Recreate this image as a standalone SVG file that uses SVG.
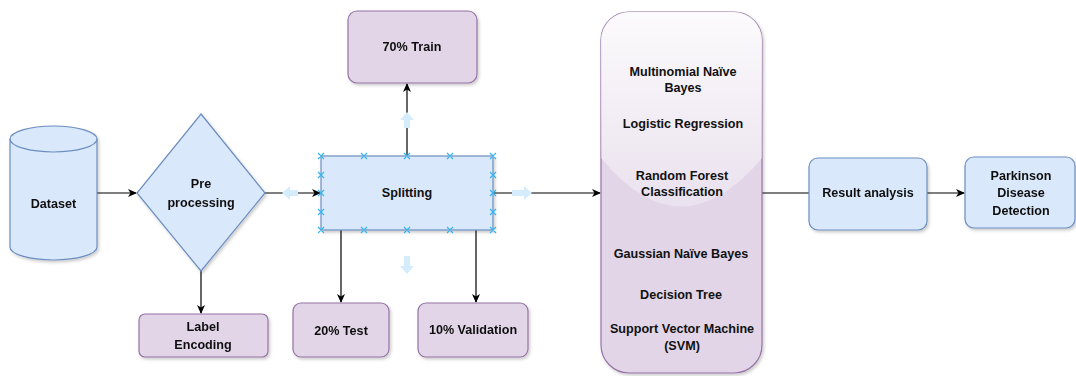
<svg xmlns="http://www.w3.org/2000/svg" width="1076" height="376" viewBox="0 0 1076 376">
<style>
.blue{fill:#dae8fc;stroke:#6c8ebf;stroke-width:1.2}
.purple{fill:#e1d5e7;stroke:#9673a6;stroke-width:1.2}
.t{font-family:"Liberation Sans",Arial,sans-serif;font-weight:bold;font-size:12.6px;fill:#111;text-anchor:middle;dominant-baseline:central}
.c{fill:none;stroke:#000;stroke-width:1.2}
.x{stroke:#33b5f0;stroke-width:1.2}
.ha{fill:#d4ecfb}
</style>
<defs>
<marker id="ar" markerWidth="10" markerHeight="10" refX="8" refY="5" orient="auto" markerUnits="userSpaceOnUse">
<path d="M0,1 L9,5 L0,9 L2.5,5 Z" fill="#000"/>
</marker>
<filter id="sh" x="-10%" y="-10%" width="130%" height="130%">
<feDropShadow dx="1.5" dy="2" stdDeviation="1.5" flood-color="#000" flood-opacity="0.2"/>
</filter>
<linearGradient id="glass" x1="0" y1="0" x2="0" y2="1">
<stop offset="0" stop-color="#ffffff" stop-opacity="0.9"/>
<stop offset="1" stop-color="#ffffff" stop-opacity="0.3"/>
</linearGradient>
</defs>

<g id="connectors">
<line class="c" x1="97" y1="193" x2="136" y2="193" marker-end="url(#ar)"/>
<line class="c" x1="265" y1="193" x2="320" y2="193" marker-end="url(#ar)"/>
<line class="c" x1="201" y1="271" x2="201" y2="313" marker-end="url(#ar)"/>
<line class="c" x1="407" y1="156" x2="407" y2="84" marker-end="url(#ar)"/>
<line class="c" x1="341" y1="230" x2="341" y2="302" marker-end="url(#ar)"/>
<line class="c" x1="476" y1="230" x2="476" y2="302" marker-end="url(#ar)"/>
<line class="c" x1="493" y1="193" x2="600" y2="193" marker-end="url(#ar)"/>
<line class="c" x1="762" y1="193" x2="809" y2="193"/>
<line class="c" x1="927" y1="193" x2="964" y2="193" marker-end="url(#ar)"/>
</g>

<g id="dataset" filter="url(#sh)">
<path class="blue" d="M10,139 A43.5,13 0 0 1 97,139 L97,247 A43.5,13 0 0 1 10,247 Z"/>
<path class="blue" style="fill:none" d="M10,139 A43.5,13 0 0 0 97,139"/>
<text class="t" x="53.5" y="204">Dataset</text>
</g>

<g id="preprocessing" filter="url(#sh)">
<path class="blue" d="M201,114 L265,193 L201,271 L137,193 Z"/>
<text class="t" x="201" y="184">Pre</text>
<text class="t" x="201" y="203">processing</text>
</g>

<g id="splitting">
<rect class="blue" x="321" y="156" width="172" height="74" filter="url(#sh)"/>
<text class="t" x="407" y="193">Splitting</text>
<g class="x">
<path d="M318,153l6,6m0,-6l-6,6M361,153l6,6m0,-6l-6,6M404,153l6,6m0,-6l-6,6M447,153l6,6m0,-6l-6,6M490,153l6,6m0,-6l-6,6"/>
<path d="M318,227l6,6m0,-6l-6,6M361,227l6,6m0,-6l-6,6M404,227l6,6m0,-6l-6,6M447,227l6,6m0,-6l-6,6M490,227l6,6m0,-6l-6,6"/>
<path d="M318,172l6,6m0,-6l-6,6M318,190l6,6m0,-6l-6,6M318,209l6,6m0,-6l-6,6"/>
<path d="M490,172l6,6m0,-6l-6,6M490,190l6,6m0,-6l-6,6M490,209l6,6m0,-6l-6,6"/>
</g>
<path class="ha" d="M282,193 L290,186 L290,190 L298,190 L298,196 L290,196 L290,200 Z"/>
<path class="ha" d="M532,193 L524,186 L524,190 L512,190 L512,196 L524,196 L524,200 Z"/>
<path class="ha" d="M407,112 L400,120 L404,120 L404,128 L410,128 L410,120 L414,120 Z"/>
<path class="ha" d="M407,274 L400,266 L404,266 L404,256 L410,256 L410,266 L414,266 Z"/>
</g>

<g id="train" filter="url(#sh)">
<rect class="purple" x="348" y="11" width="129" height="72" rx="9"/>
<text class="t" x="412" y="47">70% Train</text>
</g>

<g id="label-encoding" filter="url(#sh)">
<rect class="purple" x="139" y="314" width="129" height="43" rx="6"/>
<text class="t" x="203" y="327">Label</text>
<text class="t" x="203" y="345">Encoding</text>
</g>

<g id="test" filter="url(#sh)">
<rect class="purple" x="293" y="303" width="96" height="54" rx="8"/>
<text class="t" x="341" y="331">20% Test</text>
</g>

<g id="validation" filter="url(#sh)">
<rect class="purple" x="418" y="303" width="110" height="54" rx="8"/>
<text class="t" x="473" y="330">10% Validation</text>
</g>

<g id="models">
<rect class="purple" x="601" y="12" width="161" height="361" rx="28" filter="url(#sh)"/>
<path d="M629,12 L734,12 A28,28 0 0 1 762,40 L762,158 Q681,255 601,158 L601,40 A28,28 0 0 1 629,12 Z" fill="url(#glass)"/>
<text class="t" x="683" y="72">Multinomial Naïve</text>
<text class="t" x="683" y="88">Bayes</text>
<text class="t" x="683" y="124">Logistic Regression</text>
<text class="t" x="682" y="176">Random Forest</text>
<text class="t" x="682" y="192">Classification</text>
<text class="t" x="681" y="254">Gaussian Naïve Bayes</text>
<text class="t" x="681" y="295">Decision Tree</text>
<text class="t" x="682" y="329">Support Vector Machine</text>
<text class="t" x="682" y="346">(SVM)</text>
</g>

<g id="result-analysis" filter="url(#sh)">
<rect class="blue" x="809" y="158" width="118" height="72" rx="9"/>
<text class="t" x="868" y="193">Result analysis</text>
</g>

<g id="parkinson" filter="url(#sh)">
<rect class="blue" x="965" y="157" width="110" height="71" rx="9"/>
<text class="t" x="1021" y="176">Parkinson</text>
<text class="t" x="1021" y="193">Disease</text>
<text class="t" x="1021" y="211">Detection</text>
</g>
</svg>
